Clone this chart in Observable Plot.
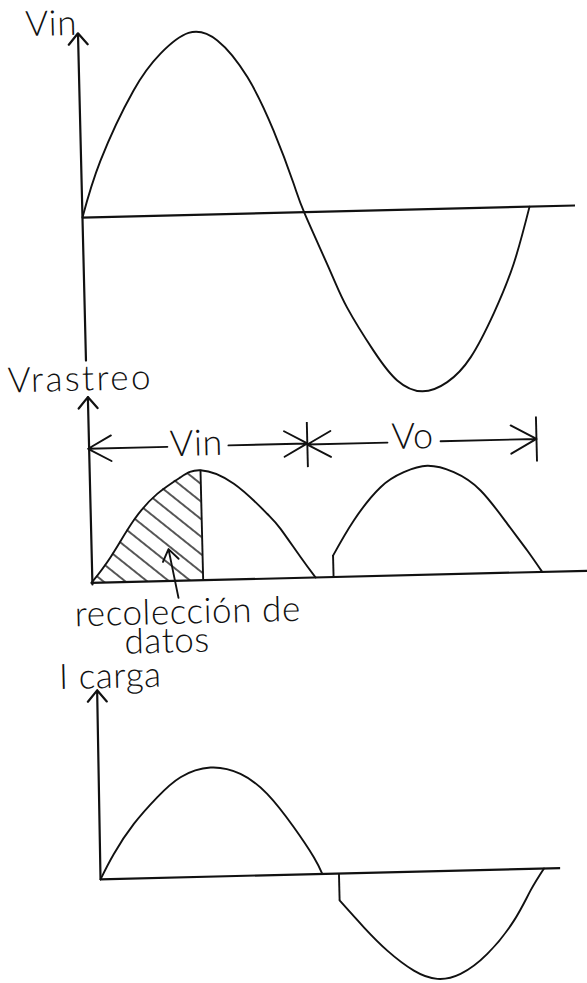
<!DOCTYPE html>
<html><head><meta charset="utf-8">
<script src="https://cdn.jsdelivr.net/npm/d3@7"></script>
<script src="https://cdn.jsdelivr.net/npm/@observablehq/plot@0.6"></script>
<style>
html,body{margin:0;padding:0;background:#fff;}
#page{position:relative;width:587px;height:983px;overflow:hidden;background:#fff;}
#rot{position:absolute;left:0;top:0;width:587px;height:983px;transform:rotate(-1.4deg);transform-origin:293px 490px;}
#rot svg{position:absolute;left:0;top:0;}
#rot svg text{letter-spacing:0.6px;}
</style></head><body><div id="page"><div id="rot"></div></div>
<script>
// ---------- Panel 1: Vin (phase in degrees, amplitude normalised) ----------
const vinDeg = [0, 15.6, 43.5, 66, 89, 112, 135.6, 155.4, 170.5, 179, 198.5, 211.2, 231.6, 250.1, 270, 290.3, 309.6, 329.2, 346.2, 360];
const vinVal = [0, 0.31, 0.69, 0.89, 1.0, 0.955, 0.748, 0.453, 0.16, -0.01, -0.33, -0.53, -0.77, -0.937, -1.0, -0.953, -0.82, -0.58, -0.31, 0];
const vinAxisX = [0, 397];
const vinAxisY = [-0.786, 1.013];
const vinLabel = ["Vin"], vinLabelDeg = [-21.4], vinLabelVal = [1.005];

// ---------- Panel 2: Vrastreo ----------
const rasHump1Deg = [0, 15.9, 35.3, 54.7, 73.7, 90, 116.6, 142.8, 153.3, 168.8, 180.5];
const rasHump1Val = [0, 0.23, 0.56, 0.795, 0.94, 1.0, 0.87, 0.59, 0.45, 0.19, 0];
const rasStepDeg = [195], rasStepVal = [0.195];
const rasHump2Deg = [195, 212.4, 234.6, 253.6, 272.6, 293.8, 315, 335.9, 351.4, 363];
const rasHump2Val = [0.195, 0.51, 0.806, 0.937, 0.99, 0.926, 0.754, 0.445, 0.198, 0];
const rasHatchEnd = [90];
const rasAxisX = [0, 405];
const rasAxisY = [-0.014, 1.69];
const rasLabel = ["Vrastreo"], rasLabelDeg = [-5], rasLabelVal = [1.75];
const dimFromDeg = [63.8, 113, 241, 283.8];
const dimToDeg = [0, 176.5, 176.5, 361];
const dimVal = [1.22, 1.22, 1.21, 1.21];
const dimTickDeg = [176.5, 361], dimTickLo = [1.0, 1.0], dimTickHi = [1.41, 1.41];
const dimLabels = ["Vin", "Vo"], dimLabelDeg = [87.2, 261.3], dimLabelVal = [1.135, 1.15];
const noteLines = ["recolección de", "datos"], noteDeg = [77, 59.8], noteVal = [-0.39, -0.65];
const pointerFrom = [69.8, -0.155], pointerTo = [62.7, 0.29];

// ---------- Panel 3: I carga ----------
const icHump1Deg = [1.5, 12.6, 29.4, 48.7, 67.9, 92.2, 116.2, 137.3, 158.1, 173.6, 180.1];
const icHump1Val = [0, 0.23, 0.505, 0.746, 0.927, 1.01, 0.944, 0.753, 0.438, 0.156, 0];
const icStepDeg = [193.5], icStepVal = [-0.25];
const icHump2Deg = [193.5, 212.5, 230.9, 251.9, 270.6, 289.4, 311.3, 333.4, 347.4, 358.6];
const icHump2Val = [-0.25, -0.504, -0.725, -0.916, -0.998, -0.957, -0.778, -0.476, -0.2, 0];
const icAxisX = [1.5, 372];
const icAxisY = [0, 1.75];
const icLabel = ["I carga"], icLabelDeg = [13.3], icLabelVal = [1.77];

// ---------- helpers ----------
const rows = (xs, ys) => xs.map((d, i) => ({deg: d, val: ys[i]}));
const INK = "#111";
const FONT = "Lato, Roboto, 'Liberation Sans', sans-serif";
const CURVE = "natural";
const xScale = {domain: [0, 360], range: [88.7, 535.9], axis: null};
const base = {width: 587, height: 983, style: {background: "transparent", overflow: "visible"}};
const textOpts = (labels, xs, ys, size) => Plot.text(labels, {
  x: (d, i) => xs[i], y: (d, i) => ys[i], text: d => d,
  fontSize: size, fontFamily: FONT, fontWeight: 300, fill: INK,
  lineAnchor: "bottom", textAnchor: "middle"
});
const root = document.getElementById("rot");

// Panel 1
const p1 = Plot.plot({
  ...base,
  x: xScale,
  y: {domain: [-1, 1], range: [394, 30], axis: null},
  marks: [
    Plot.ruleY([0], {x1: vinAxisX[0], x2: vinAxisX[1], stroke: INK, strokeWidth: 2.2}),
    Plot.arrow([0], {x1: 0, x2: 0, y1: vinAxisY[0], y2: vinAxisY[1], stroke: INK, strokeWidth: 2.2, headLength: 10, headAngle: 80}),
    Plot.line(rows(vinDeg, vinVal), {x: "deg", y: "val", curve: CURVE, stroke: INK, strokeWidth: 1.9}),
    textOpts(vinLabel, vinLabelDeg, vinLabelVal, 35)
  ]
});
root.appendChild(p1);

// Panel 2
const hatchRows = rows(rasHump1Deg, rasHump1Val).filter(d => d.deg <= rasHatchEnd[0]);
const dimRows = dimFromDeg.map((d, i) => ({x1: d, x2: dimToDeg[i], y: dimVal[i]}));
const p2 = Plot.plot({
  ...base,
  x: xScale,
  y: {domain: [0, 1], range: [577.5, 467.5], axis: null},
  marks: [
    Plot.areaY(hatchRows, {x: "deg", y: "val", fill: "url(#hatch)", curve: CURVE}),
    Plot.ruleX(rasHatchEnd, {y1: 0, y2: 1, stroke: INK, strokeWidth: 1.9}),
    Plot.ruleY([0], {x1: rasAxisX[0], x2: rasAxisX[1], stroke: INK, strokeWidth: 2.2}),
    Plot.arrow([0], {x1: 0.8, x2: 0.8, y1: rasAxisY[0], y2: rasAxisY[1], stroke: INK, strokeWidth: 2.2, headLength: 10, headAngle: 80}),
    Plot.line(rows(rasHump1Deg, rasHump1Val), {x: "deg", y: "val", curve: CURVE, stroke: INK, strokeWidth: 1.9}),
    Plot.ruleX(rasStepDeg, {y1: 0, y2: rasStepVal[0], stroke: INK, strokeWidth: 1.9}),
    Plot.line(rows(rasHump2Deg, rasHump2Val), {x: "deg", y: "val", curve: CURVE, stroke: INK, strokeWidth: 1.9}),
    Plot.arrow(dimRows, {x1: "x1", x2: "x2", y1: "y", y2: "y", stroke: INK, strokeWidth: 1.9, headLength: 23, headAngle: 58}),
    Plot.ruleX(dimTickDeg, {y1: (d, i) => dimTickLo[i], y2: (d, i) => dimTickHi[i], stroke: INK, strokeWidth: 1.9}),
    Plot.arrow([0], {x1: pointerFrom[0], y1: pointerFrom[1], x2: pointerTo[0], y2: pointerTo[1], stroke: INK, strokeWidth: 1.9, headLength: 11, headAngle: 70}),
    textOpts(rasLabel, rasLabelDeg, rasLabelVal, 35),
    textOpts(dimLabels, dimLabelDeg, dimLabelVal, 36),
    textOpts(noteLines, noteDeg, noteVal, 35)
  ]
});
d3.select(p2).insert("defs", ":first-child")
  .append("pattern").attr("id", "hatch").attr("patternUnits", "userSpaceOnUse")
  .attr("width", 14).attr("height", 13.7).attr("patternTransform", "rotate(40)")
  .append("line").attr("x1", 0).attr("x2", 14).attr("y1", 6.85).attr("y2", 6.85)
  .attr("stroke", INK).attr("stroke-width", 1.4);
d3.select(p2).selectAll("text").filter(function() { return this.textContent === rasLabel[0]; })
  .style("letter-spacing", "2.4px");
root.appendChild(p2);

// Panel 3
const p3 = Plot.plot({
  ...base,
  x: xScale,
  y: {domain: [-1, 1], range: [982, 766], axis: null},
  marks: [
    Plot.ruleY([0], {x1: icAxisX[0], x2: icAxisX[1], stroke: INK, strokeWidth: 2.2}),
    Plot.arrow([0], {x1: icAxisX[0], x2: icAxisX[0] + 1, y1: icAxisY[0], y2: icAxisY[1], stroke: INK, strokeWidth: 2.2, headLength: 10, headAngle: 80}),
    Plot.line(rows(icHump1Deg, icHump1Val), {x: "deg", y: "val", curve: CURVE, stroke: INK, strokeWidth: 1.9}),
    Plot.ruleX(icStepDeg, {y1: 0, y2: icStepVal[0], stroke: INK, strokeWidth: 1.9}),
    Plot.line(rows(icHump2Deg, icHump2Val), {x: "deg", y: "val", curve: CURVE, stroke: INK, strokeWidth: 1.9}),
    textOpts(icLabel, icLabelDeg, icLabelVal, 35)
  ]
});
root.appendChild(p3);
</script></body></html>
